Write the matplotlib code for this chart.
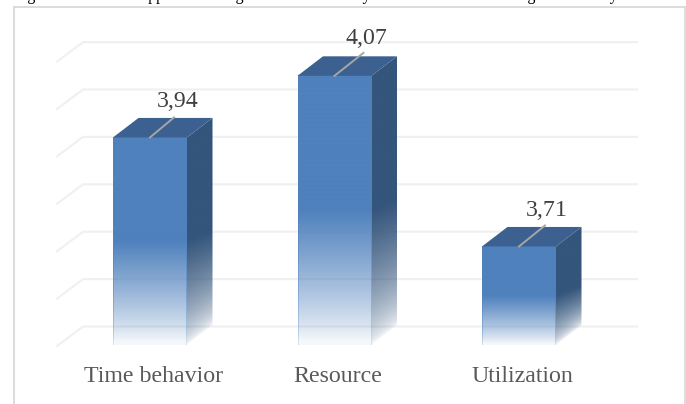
import numpy as np
import matplotlib
matplotlib.use('Agg')
from matplotlib import pyplot as plt
from matplotlib.colors import to_rgb
from matplotlib.lines import Line2D
from matplotlib.patches import Polygon

plt.rcParams['font.family'] = ['Liberation Serif', 'DejaVu Serif']

categories = ['Time behavior', 'Resource', 'Utilization']
values = [3.94, 4.07, 3.71]
value_labels = ['3,94', '4,07', '3,71']
grid_values = [3.5, 3.6, 3.7, 3.8, 3.9, 4.0, 4.1]
caption_words = ['Figure', 'Mapped', 'Learning', 'Efficiency', 'E-learning', 'Usability']

W, H = 686, 404
BASE = 3.5
PX_PER_CAT = 184.5
PX_PER_VAL = 474.0

# decalages des etiquettes et des traits de rappel, en pixels
label_dx = [28, 32, 28]
label_dy = [30, 32, 30]
leader_dx = [24, 29, 26]
leader_dy = [20, 23, 21]

fig = plt.figure(figsize=(W / 100, H / 100), dpi=100, facecolor='white')
ax = fig.add_axes([0, 0, 1, 1])
ax.set_axis_off()

# limites choisies pour que le pas entre categories et les valeurs tombent sur le bon pixel
x_lim = (-150 / PX_PER_CAT, (W - 150) / PX_PER_CAT)
y_lim = (BASE - (H - 346) / PX_PER_VAL, BASE + 346 / PX_PER_VAL)

depth_x = 25.5 / PX_PER_CAT
depth_y = 19.5 / PX_PER_VAL
half_w = 37 / PX_PER_CAT
grid_left = -93 / PX_PER_CAT
grid_right = (637 - 150) / PX_PER_CAT

FRONT = np.array(to_rgb('#4f81bd'))
TOP = '#3c6191'
SIDE = np.array(to_rgb('#34557c'))


def draw_bar(i, value):
    left, right = i - half_w, i + half_w
    bottom = BASE + 0.002
    mid = (value + bottom) / 2

    # face avant : plein jusqu'a la moitie, puis fondu
    yy = np.linspace(value, bottom, 300)
    alpha = np.clip((yy - bottom) / (mid - bottom), 0.03, 1) ** 0.8
    img = np.zeros((300, 74, 4))
    img[..., :3] = FRONT
    img[..., 3] = alpha[:, None]
    img[:, 0, 3] = alpha ** 0.5
    img[:, -1, 3] = alpha ** 0.5
    ax.imshow(img, extent=(left, right, bottom, value), aspect='auto',
              interpolation='bilinear', zorder=3)

    # face de droite : degrade en biais, decoupe sur le parallelogramme
    rows, cols = 300, 60
    top_y = value + depth_y
    yy = np.linspace(top_y, bottom, rows)[:, None]
    uu = np.linspace(0, 1, cols)[None, :]
    low = bottom + depth_y * uu
    high = mid + 0.5 * depth_y * uu
    side = np.zeros((rows, cols, 4))
    side[..., :3] = SIDE
    side[..., 3] = np.clip((yy - low) / (high - low), 0, 1) ** 0.6
    im = ax.imshow(side, extent=(right, right + depth_x, bottom, top_y), aspect='auto',
                   interpolation='bilinear', zorder=3)
    clip = Polygon([(right, value), (right + depth_x, top_y),
                    (right + depth_x, bottom + depth_y), (right, bottom)],
                   transform=ax.transData, fill=False, lw=0)
    ax.add_patch(clip)
    im.set_clip_path(clip)

    # dessus
    ax.fill([left, right, right + depth_x, left + depth_x],
            [value, value, value + depth_y, value + depth_y],
            color=TOP, lw=0, zorder=3)


for g in grid_values:
    ax.plot([grid_left, grid_left + depth_x * 1.02, grid_right],
            [g, g + depth_y, g + depth_y],
            color='#f0f0f0', lw=1.5, solid_joinstyle='miter', zorder=1)

for i, (cat, val, lab) in enumerate(zip(categories, values, value_labels)):
    draw_bar(i, val)
    ax.plot([i, i + leader_dx[i] / PX_PER_CAT], [val, val + leader_dy[i] / PX_PER_VAL],
            color='#a6a6a6', lw=1.4, zorder=5)
    ax.text(i + label_dx[i] / PX_PER_CAT, val + label_dy[i] / PX_PER_VAL, lab, fontsize=17.2,
            color='#404040', ha='center', va='baseline', zorder=6)
    ax.text(i + 3.5 / PX_PER_CAT, BASE - 36 / PX_PER_VAL, cat, fontsize=17.2,
            color='#595959', ha='center', va='baseline', zorder=6)

ax.set_xlim(x_lim)
ax.set_ylim(y_lim)

# cadre du graphique : pas de bord bas, coupe par la capture
fx = [13.5 / W, 13.5 / W, 685 / W, 685 / W]
fy = [0, 1 - 6.5 / H, 1 - 6.5 / H, 0]
fig.add_artist(Line2D(fx, fy, transform=fig.transFigure, color='#d9d9d9', lw=1.3,
                      solid_joinstyle='miter'))

# legende coupee en haut de la capture : seuls les jambages depassent
for word, px in zip(caption_words, [15, 128, 187, 305, 469, 560]):
    fig.text(px / W, 1 - 0.5 / H, word, fontsize=11.5, color='black',
             ha='left', va='baseline')

fig.savefig('out.png', dpi=100)
